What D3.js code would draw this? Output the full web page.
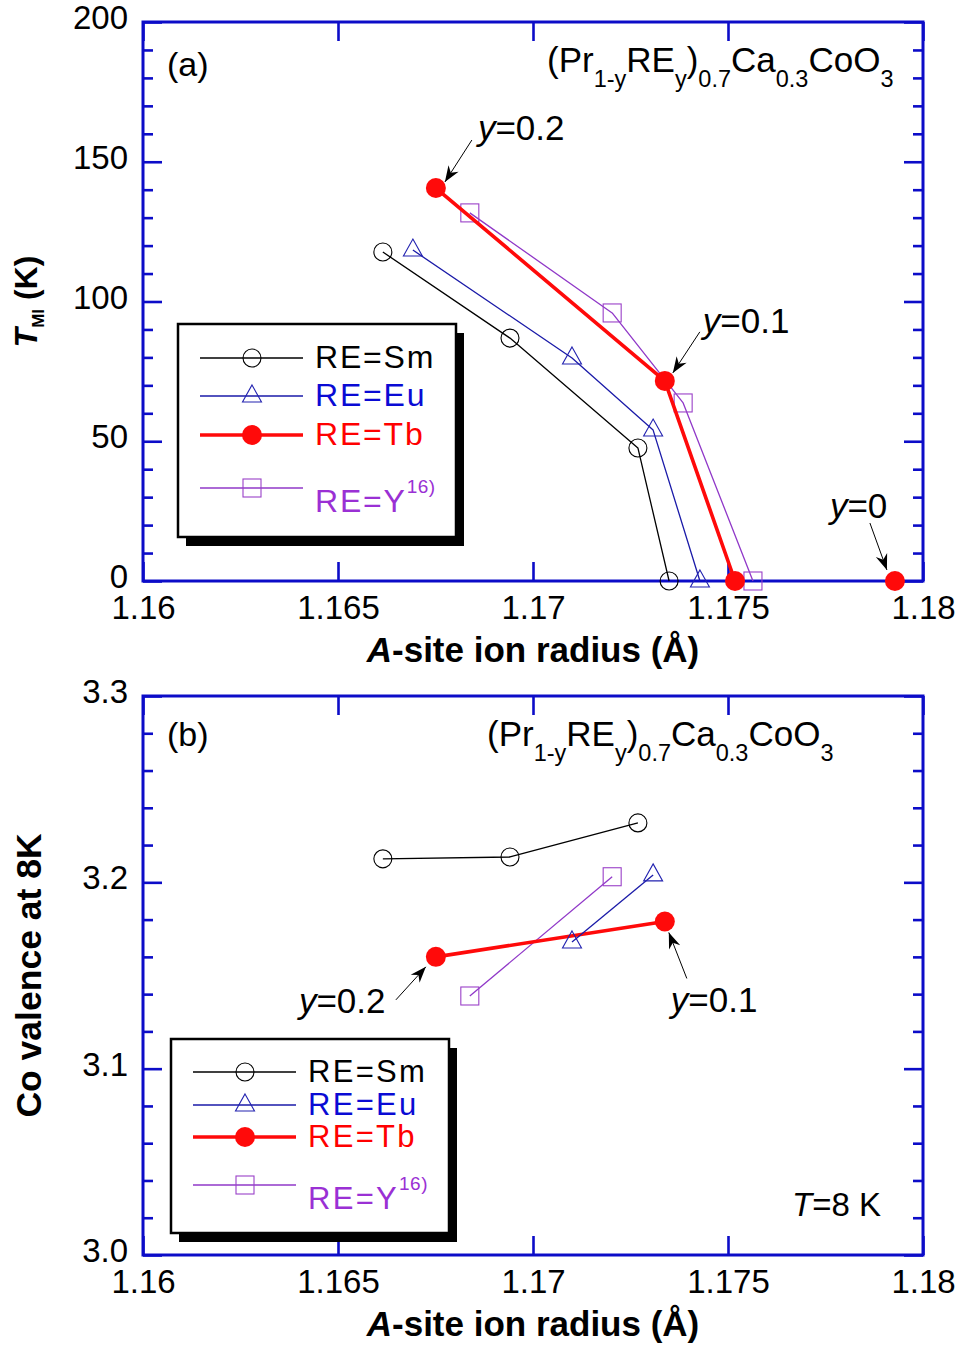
<!DOCTYPE html>
<html lang="en">
<head>
<meta charset="UTF-8">
<title>T_MI and Co valence vs A-site ion radius</title>
<style>
  body { margin: 0; padding: 0; background: #fff; }
  svg { display: block; }
  text { font-family: "Liberation Sans", Arial, sans-serif; fill: #000; }
</style>
</head>
<body>
<svg width="962" height="1346"></svg>
<script src="https://d3js.org/d3.v7.min.js"></script>
<script>
// ---- axis ticks ----
const radiusTicks = [1.16, 1.165, 1.17, 1.175, 1.18];
const tmiTicks = [0, 50, 100, 150, 200];
const tmiMinor = [10, 20, 30, 40, 60, 70, 80, 90, 110, 120, 130, 140, 160, 170, 180, 190];
const valenceTicks = [3.0, 3.1, 3.2, 3.3];
const valenceMinor = [3.02, 3.04, 3.06, 3.08, 3.12, 3.14, 3.16, 3.18, 3.22, 3.24, 3.26, 3.28];

// ---- panel (a): T_MI (K) ----
const smRadius = [1.16615, 1.16941, 1.17269, 1.17349];
const smTmi = [117.7, 86.9, 47.6, 0];
const euRadius = [1.16692, 1.17100, 1.17308, 1.17428];
const euTmi = [118.4, 79.8, 54.0, 0];
const tbRadius = [1.16751, 1.17338, 1.17518];
const tbTmi = [140.6, 71.6, 0];
const yRadius = [1.16838, 1.17203, 1.17385, 1.17564];
const yTmi = [131.7, 95.9, 63.7, 0];
const parentRadius = [1.17928];   // y=0
const parentTmi = [0];

// ---- panel (b): Co valence at 8 K ----
const smValRadius = [1.16615, 1.16941, 1.17269];
const smValence = [3.2126, 3.2136, 3.2319];
const euValRadius = [1.17100, 1.17308];
const euValence = [3.168, 3.204];
const tbValRadius = [1.16751, 1.17338];
const tbValence = [3.160, 3.179];
const yValRadius = [1.16838, 1.17203];
const yValence = [3.139, 3.203];

const legendNames = ["RE=Sm", "RE=Eu", "RE=Tb", "RE=Y"];

// styles
const axisColor = "#0c0cc8";
const styles = {
  Sm: { shape: "circle", line: "#000", stroke: "#000", width: 1.3, text: "#000" },
  Eu: { shape: "triangle", line: "#1a1aa8", stroke: "#2222b0", width: 1.3, text: "#0a0ad4" },
  Tb: { shape: "dot", line: "#ff0a0a", stroke: "#ff0a0a", width: 3.6, text: "#ff0000" },
  Y:  { shape: "square", line: "#9038c8", stroke: "#9a40c8", width: 1.3, text: "#9a30d4" }
};

const svg = d3.select("svg");
const left = 143, right = 923;
const x = d3.scaleLinear().domain([1.16, 1.18]).range([left, right]);

// arrow head
svg.append("defs").append("marker")
  .attr("id", "head")
  .attr("markerUnits", "userSpaceOnUse")
  .attr("viewBox", "-17 -7 18 14")
  .attr("refX", 0).attr("refY", 0)
  .attr("markerWidth", 18).attr("markerHeight", 14)
  .attr("orient", "auto")
  .append("path")
  .attr("d", "M0,0 L-16,-6 L-11,0 L-16,6 Z")
  .attr("fill", "#000");

function drawMarker(g, st, cx, cy) {
  if (st.shape === "circle") {
    g.append("circle").attr("cx", cx).attr("cy", cy).attr("r", 9)
      .attr("fill", "none").attr("stroke", st.stroke).attr("stroke-width", 1.1);
  } else if (st.shape === "dot") {
    g.append("circle").attr("cx", cx).attr("cy", cy).attr("r", 10)
      .attr("fill", st.stroke);
  } else if (st.shape === "triangle") {
    g.append("path")
      .attr("d", `M${cx},${cy - 11} L${cx + 9.5},${cy + 6} L${cx - 9.5},${cy + 6} Z`)
      .attr("fill", "none").attr("stroke", st.stroke).attr("stroke-width", 1.1);
  } else {
    g.append("rect").attr("x", cx - 9).attr("y", cy - 9).attr("width", 18).attr("height", 18)
      .attr("fill", "none").attr("stroke", st.stroke).attr("stroke-width", 1.1);
  }
}

function styleAxis(sel, fontSize) {
  sel.attr("font-family", null).attr("font-size", null);
  sel.select(".domain").remove();
  sel.selectAll(".tick line").attr("stroke", axisColor).attr("stroke-width", 2.6);
  sel.selectAll(".tick text").attr("fill", "#000").style("font-size", fontSize + "px");
}

function addFormula(g, fx, fy) {
  const t = g.append("text").attr("x", fx).attr("y", fy).style("font-size", "35px");
  const parts = [["(Pr", 0], ["1-y", 1], ["RE", 0], ["y", 1], [")", 0], ["0.7", 1],
                 ["Ca", 0], ["0.3", 1], ["CoO", 0], ["3", 1]];
  let prev = 0;
  parts.forEach(([s, sub]) => {
    t.append("tspan").text(s)
      .attr("dy", (sub - prev) * 15)
      .style("font-size", sub ? "23.5px" : "35px");
    prev = sub;
  });
}

function annotate(g, y, px, py, label, a) {
  const cx = x(px), cy = y(py);
  g.append("line")
    .attr("x1", cx + a.start[0]).attr("y1", cy + a.start[1])
    .attr("x2", cx + a.tip[0]).attr("y2", cy + a.tip[1])
    .attr("stroke", "#000").attr("stroke-width", 1)
    .attr("marker-end", "url(#head)");
  const t = g.append("text").attr("x", cx + a.text[0]).attr("y", cy + a.text[1])
    .style("font-size", "35px");
  t.append("tspan").text("y").style("font-style", "italic");
  t.append("tspan").text("=" + label);
}

function drawLegend(g, box, rows, fontSize, spacing) {
  g.append("rect").attr("x", box.x + 8).attr("y", box.y + 9)
    .attr("width", box.w).attr("height", box.h).attr("fill", "#000");
  g.append("rect").attr("x", box.x).attr("y", box.y)
    .attr("width", box.w).attr("height", box.h)
    .attr("fill", "#fff").attr("stroke", "#000").attr("stroke-width", 2.5);
  legendNames.forEach((name, i) => {
    const key = name.split("=")[1];
    const st = styles[key];
    const ly = box.y + rows[i];
    g.append("line").attr("x1", box.x + 22).attr("x2", box.x + 125)
      .attr("y1", ly).attr("y2", ly)
      .attr("stroke", st.line).attr("stroke-width", key === "Tb" ? 3.4 : 1.3);
    drawMarker(g, st, box.x + 74, ly);
    const t = g.append("text").attr("x", box.x + 137)
      .attr("y", box.y + rows[i] + (key === "Y" ? 24 : 10))
      .style("font-size", fontSize + "px").style("letter-spacing", spacing + "px")
      .style("fill", st.text);
    t.append("tspan").text(name);
    if (key === "Y") {
      t.append("tspan").text("16)").attr("dy", -19)
        .style("font-size", "19px").style("letter-spacing", "0.5px");
    }
  });
}

function drawPanel(cfg) {
  const g = svg.append("g");
  const y = d3.scaleLinear().domain(cfg.domain).range([cfg.bottom, cfg.top]);

  // frame
  g.append("rect").attr("x", left).attr("y", cfg.top)
    .attr("width", right - left).attr("height", cfg.bottom - cfg.top)
    .attr("fill", "none").attr("stroke", axisColor).attr("stroke-width", 3);

  // minor y ticks, both sides
  g.append("g").attr("transform", `translate(${left},0)`)
    .call(d3.axisLeft(y).tickValues(cfg.minor).tickSize(-10).tickFormat(""))
    .call(s => styleAxis(s, 10));
  g.append("g").attr("transform", `translate(${right},0)`)
    .call(d3.axisRight(y).tickValues(cfg.minor).tickSize(-10).tickFormat(""))
    .call(s => styleAxis(s, 10));

  // major y ticks
  g.append("g").attr("transform", `translate(${left},0)`)
    .call(d3.axisLeft(y).tickValues(cfg.ticks).tickSize(-19).tickPadding(15).tickFormat(cfg.format))
    .call(s => styleAxis(s, 33))
    .call(s => s.selectAll(".tick text").attr("dy", "0.2em"));
  g.append("g").attr("transform", `translate(${right},0)`)
    .call(d3.axisRight(y).tickValues(cfg.ticks).tickSize(-19).tickFormat(""))
    .call(s => styleAxis(s, 10));

  // x ticks
  g.append("g").attr("transform", `translate(0,${cfg.bottom})`)
    .call(d3.axisBottom(x).tickValues(radiusTicks).tickSize(-19).tickFormat(d3.format(".4~f")))
    .call(s => styleAxis(s, 33))
    .call(s => s.selectAll(".tick text").attr("y", 38).attr("dy", null));
  g.append("g").attr("transform", `translate(0,${cfg.top})`)
    .call(d3.axisTop(x).tickValues(radiusTicks).tickSize(-19).tickFormat(""))
    .call(s => styleAxis(s, 10));

  // axis titles
  const xt = g.append("text").attr("x", (left + right) / 2).attr("y", cfg.bottom + 81)
    .attr("text-anchor", "middle").style("font-size", "35px").style("font-weight", "bold");
  xt.append("tspan").text("A").style("font-style", "italic");
  xt.append("tspan").text("-site ion radius (\u00c5)");

  const yt = g.append("text")
    .attr("transform", `translate(${cfg.yTitleX},${(cfg.top + cfg.bottom) / 2}) rotate(-90)`)
    .attr("text-anchor", "middle").style("font-weight", "bold")
    .style("font-size", cfg.yTitleSize + "px");
  cfg.yTitle(yt);

  // panel label + formula
  g.append("text").attr("x", 167).attr("y", cfg.top + cfg.labelDy)
    .style("font-size", "34px").text(cfg.label);
  addFormula(g, cfg.formulaX, cfg.top + 50);

  // series
  const line = d3.line().x(d => x(d[0])).y(d => y(d[1]));
  cfg.series.forEach(s => {
    const st = styles[s.key];
    const pts = d3.zip(s.r, s.v);
    if (s.connect !== false) {
      g.append("path").datum(pts).attr("d", line)
        .attr("fill", "none").attr("stroke", st.line).attr("stroke-width", st.width)
        .attr("stroke-linejoin", "round");
    }
    pts.forEach(p => drawMarker(g, st, x(p[0]), y(p[1])));
  });

  cfg.notes.forEach(n => annotate(g, y, n.r, n.v, n.label, n));
  drawLegend(g, cfg.legend, cfg.legendRows, cfg.legendFont, cfg.legendSpacing);
  if (cfg.extra) cfg.extra(g);
}

// panel (a)
drawPanel({
  top: 22, bottom: 581, domain: [0, 200],
  ticks: tmiTicks, minor: tmiMinor, format: d3.format("d"),
  label: "(a)", labelDy: 54, formulaX: 547,
  yTitleX: 37, yTitleSize: 32,
  yTitle: t => {
    t.append("tspan").text("T").style("font-style", "italic");
    t.append("tspan").text("MI").attr("dy", 7).style("font-size", "17px");
    t.append("tspan").text(" (K)").attr("dy", -7);
  },
  series: [
    { key: "Y", r: yRadius, v: yTmi },
    { key: "Sm", r: smRadius, v: smTmi },
    { key: "Eu", r: euRadius, v: euTmi },
    { key: "Tb", r: tbRadius, v: tbTmi },
    { key: "Tb", r: parentRadius, v: parentTmi, connect: false }
  ],
  notes: [
    { r: tbRadius[0], v: tbTmi[0], label: "0.2", text: [42, -48], start: [36, -48], tip: [9, -6] },
    { r: tbRadius[1], v: tbTmi[1], label: "0.1", text: [38, -48], start: [35, -49], tip: [8, -8] },
    { r: parentRadius[0], v: parentTmi[0], label: "0", text: [-65, -63], start: [-25, -58], tip: [-8, -11] }
  ],
  legend: { x: 178, y: 324, w: 278, h: 213 },
  legendRows: [34, 72, 111, 164], legendFont: 32, legendSpacing: 1.8
});

// panel (b)
drawPanel({
  top: 696, bottom: 1255, domain: [3.0, 3.3],
  ticks: valenceTicks, minor: valenceMinor, format: d3.format(".1f"),
  label: "(b)", labelDy: 50, formulaX: 487,
  yTitleX: 41, yTitleSize: 35.5,
  yTitle: t => t.text("Co valence at 8K"),
  series: [
    { key: "Sm", r: smValRadius, v: smValence },
    { key: "Y", r: yValRadius, v: yValence },
    { key: "Tb", r: tbValRadius, v: tbValence },
    { key: "Eu", r: euValRadius, v: euValence }
  ],
  notes: [
    { r: tbValRadius[0], v: tbValence[0], label: "0.2", text: [-137, 56], start: [-40, 43], tip: [-10, 10] },
    { r: tbValRadius[1], v: tbValence[1], label: "0.1", text: [6, 91], start: [22, 57], tip: [4, 11] }
  ],
  legend: { x: 171, y: 1039, w: 278, h: 194 },
  legendRows: [33, 66, 98, 146], legendFont: 31, legendSpacing: 2.3,
  extra: g => {
    const t = g.append("text").attr("x", 792).attr("y", 1216).style("font-size", "33px");
    t.append("tspan").text("T").style("font-style", "italic");
    t.append("tspan").text("=8 K");
  }
});
</script>
</body>
</html>
